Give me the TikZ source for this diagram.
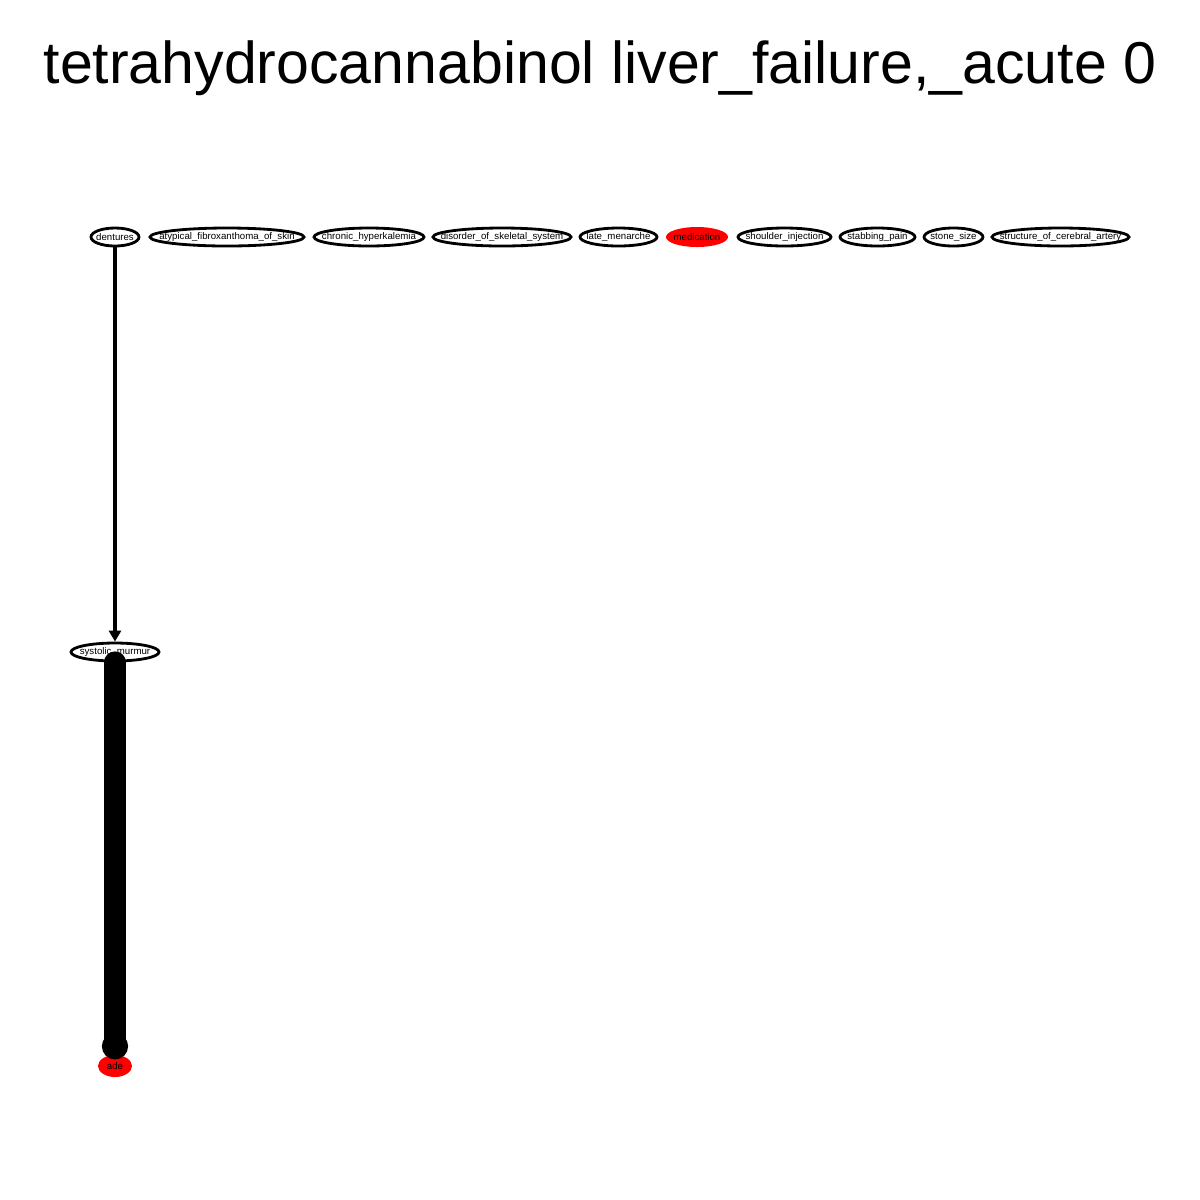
\documentclass[tikz,border=0pt]{standalone}
\usepackage{fontspec}
\setmainfont{Liberation Sans}
\usetikzlibrary{shapes,arrows.meta,positioning,calc}
\definecolor{adered}{RGB}{255,0,0}

\begin{document}
\begin{tikzpicture}[
    term/.style={ellipse, draw, line width=0.8pt, inner xsep=-0.14cm, inner ysep=0pt, minimum height=0.18cm, font=\fontsize{2.75pt}{3pt}\selectfont},
    hit/.style={ellipse, fill=adered, inner xsep=-0.14cm, inner ysep=0pt, minimum height=0.22cm, font=\fontsize{2.75pt}{3pt}\selectfont},
    thinedge/.style={line width=1.2pt, -{Triangle[length=0.11cm,width=0.12cm]}},
    bigedge/.style={line width=0.22cm, line cap=round, shorten >=-0.05cm, -{Circle[length=0.26cm]}}
]
    \useasboundingbox (0,0) rectangle (12,-12);

    % Title
    \node[font=\fontsize{16.8pt}{19pt}\selectfont] (title) at (6,-0.68) {tetrahydrocannabinol liver\_failure,\_acute 0};

    % Top row
    \node[term, minimum width=0.48cm] (dentures) at (1.15,-2.37) {dentures};
    \node[term, minimum width=1.54cm] (afs) at (2.27,-2.37) {atypical\_fibroxanthoma\_of\_skin};
    \node[term, minimum width=1.10cm] (chk) at (3.69,-2.37) {chronic\_hyperkalemia};
    \node[term, minimum width=1.38cm] (dss) at (5.02,-2.37) {disorder\_of\_skeletal\_system};
    \node[term, minimum width=0.77cm] (lm) at (6.185,-2.37) {late\_menarche};
    \node[hit, minimum width=0.62cm, minimum height=0.20cm] (medication) at (6.97,-2.37) {medication};
    \node[term, minimum width=0.93cm] (si) at (7.845,-2.37) {shoulder\_injection};
    \node[term, minimum width=0.75cm] (sp) at (8.775,-2.37) {stabbing\_pain};
    \node[term, minimum width=0.59cm] (ss) at (9.535,-2.37) {stone\_size};
    \node[term, minimum width=1.37cm] (sca) at (10.605,-2.37) {structure\_of\_cerebral\_artery};

    % Middle and bottom
    \node[term, minimum width=0.88cm] (sm) at (1.15,-6.52) {systolic\_murmur};
    \node[hit, minimum width=0.34cm] (ade) at (1.15,-10.66) {ade};

    % Edges
    \draw[thinedge] (dentures) -- (sm);
    \draw[bigedge] (sm) -- (ade);
\end{tikzpicture}
\end{document}
